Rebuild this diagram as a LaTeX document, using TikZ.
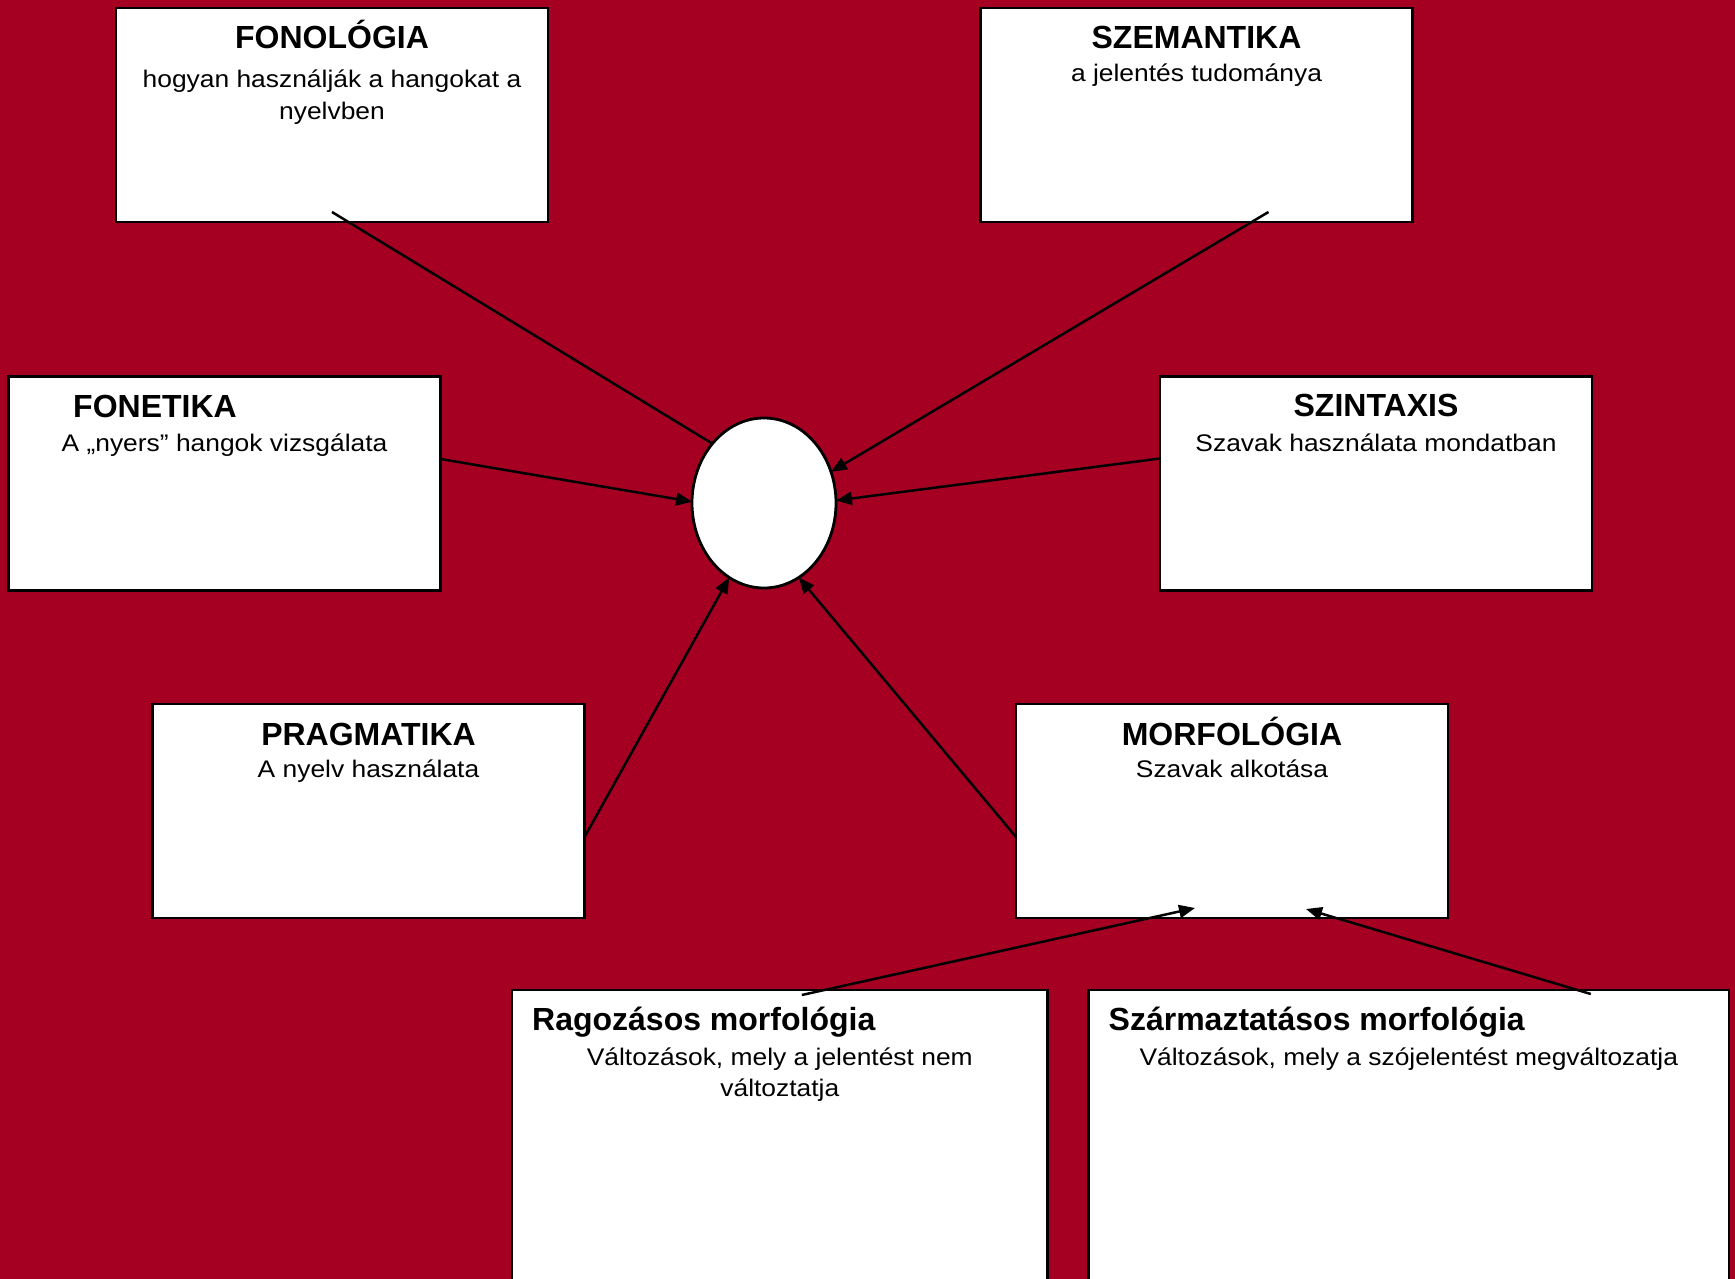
\documentclass[tikz,border=0pt]{standalone}
\usepackage{fontspec}
\setmainfont{Liberation Sans}
\usetikzlibrary{arrows.meta,shapes.geometric,calc}
\definecolor{bgred}{RGB}{165,0,33}
\newcommand{\hstretch}[1]{\scalebox{1.1}[1]{#1}}
\begin{document}
\begin{tikzpicture}[x=1pt,y=-1pt,
  box/.style={draw=black, fill=white, line width=2.8pt, rectangle, inner sep=0pt, outer sep=0pt, minimum width=432pt, minimum height=214pt},
  ttl/.style={font=\fontsize{32}{36}\selectfont\bfseries, inner sep=0pt, anchor=base},
  dsc/.style={font=\fontsize{24}{29}\selectfont, inner sep=0pt, anchor=base},
  conn/.style={line width=2.5pt},
  arr/.style={conn, -{Triangle[length=16pt,width=13pt]}}]
\useasboundingbox (0,0) rectangle (1735,1279);
\clip (0,0) rectangle (1735,1279);
\fill[bgred] (0,0) rectangle (1735,1279);

% boxes
\node[box] (fono)  at (332,115) {};
\node[box] (szem)  at (1196.5,115) {};
\node[box] (fonet) at (224.5,483.5) {};
\node[box] (szint) at (1376,483.5) {};
\node[box] (prag)  at (368.5,811) {};
\node[box] (morf)  at (1232,811) {};
\node[box, minimum width=535.5pt, minimum height=320pt] (rag)  at (779.8,1150) {};
\node[box, minimum width=640.5pt, minimum height=320pt] (szar) at (1408.8,1150) {};

% central ellipse
\node[ellipse, draw=black, fill=white, line width=2.8pt, inner sep=0pt, outer sep=0pt,
      minimum width=144pt, minimum height=170pt] (ell) at (764,503) {};

% texts
\node[ttl] (fonoT)  at (332,49) {FONOLÓGIA};
\node[dsc] (fonoD1) at (332,87.3) {\hstretch{hogyan használják a hangokat a}};
\node[dsc] (fonoD2) at (332,119.8) {\hstretch{nyelvben}};

\node[ttl] (szemT) at (1196.5,49) {SZEMANTIKA};
\node[dsc] (szemD) at (1196.5,81.5) {\hstretch{a jelentés tudománya}};

\node[ttl, anchor=base west] (fonetT) at (73,417) {FONETIKA};
\node[dsc] (fonetD) at (224.5,451.6) {\hstretch{A „nyers” hangok vizsgálata}};

\node[ttl] (szintT) at (1376,416) {SZINTAXIS};
\node[dsc] (szintD) at (1376,451.6) {\hstretch{Szavak használata mondatban}};

\node[ttl] (pragT) at (368.5,745) {PRAGMATIKA};
\node[dsc] (pragD) at (368.5,777) {\hstretch{A nyelv használata}};

\node[ttl] (morfT) at (1232,745) {MORFOLÓGIA};
\node[dsc] (morfD) at (1232,777) {\hstretch{Szavak alkotása}};

\node[ttl, anchor=base west] (ragT) at (532,1030) {Ragozásos morfológia};
\node[dsc] (ragD1) at (779.8,1065) {\hstretch{Változások, mely a jelentést nem}};
\node[dsc] (ragD2) at (779.8,1096.7) {\hstretch{változtatja}};

\node[ttl, anchor=base west] (szarT) at (1108.5,1030) {Származtatásos morfológia};
\node[dsc] (szarD) at (1408.8,1065) {\hstretch{Változások, mely a szójelentést megváltozatja}};

% connectors
\draw[conn] ($(fono.south)+(0,-10)$) -- (ell.131);
\draw[arr] ($(szem.south)+(72,-10)$) -- (ell.25);
\draw[arr] ($(fonet.east)+(0,-24.5)$) -- (ell.179);
\draw[arr] ($(szint.west)+(0,-25)$) -- (ell.2);
\draw[arr] ($(prag.east)+(0,26)$) -- (ell.245);
\draw[arr] ($(morf.west)+(0,26)$) -- (ell.295);
\draw[arr] ($(rag.north)+(22,5)$) -- ($(morf.south)+(-37,-10)$);
\draw[arr] ($(szar.north)+(182,4)$) -- ($(morf.south)+(74,-9)$);
\end{tikzpicture}
\end{document}
